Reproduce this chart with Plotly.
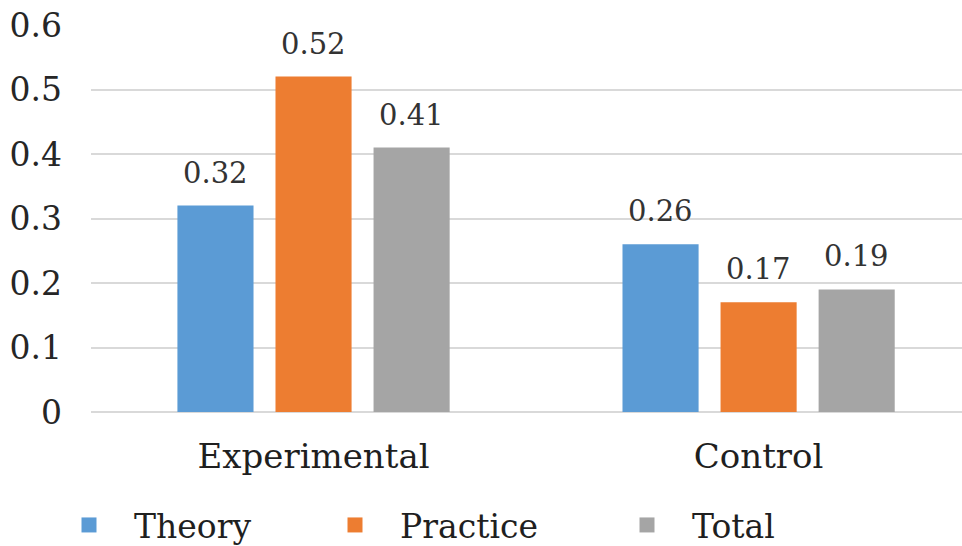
import plotly.graph_objects as go

# Mean scores by group
groups = ["Experimental", "Control"]
series_names = ["Theory", "Practice", "Total"]
theory = [0.32, 0.26]
practice = [0.52, 0.17]
total = [0.41, 0.19]
y_ticks = [0, 0.1, 0.2, 0.3, 0.4, 0.5, 0.6]

colors = ["#5B9BD5", "#ED7D31", "#A5A5A5"]
values = [theory, practice, total]

W, H = 962, 546
ML, MR, MT, MB = 91, 0, 25, 134
X_RANGE = [-0.5, 1.457]
BARGAP = 0.339
BARGROUPGAP = 0.224
FONT = "DejaVu Serif"

fig = go.Figure()

for name, vals, col in zip(series_names, values, colors):
    fig.add_trace(go.Bar(
        x=groups, y=vals, name=name, marker_color=col,
        marker_line_width=0, showlegend=False,
    ))

# Value labels above each bar, offset to the bar's slot within its group
px_per_unit = (W - ML - MR) / (X_RANGE[1] - X_RANGE[0])
slot_px = px_per_unit * (1 - BARGAP) / len(series_names)
for i, vals in enumerate(values):
    for g, v in zip(groups, vals):
        fig.add_annotation(
            x=g, y=v, text=f"{v:.2f}", showarrow=False,
            xanchor="center", yanchor="bottom",
            xshift=(i - 1) * slot_px, yshift=14,
            font=dict(family=FONT, size=29, color="#333333"),
        )

# Legend entries, one legend per series so each can be placed on its own
legend_x = [44, 310, 602]
for k, (name, col) in enumerate(zip(series_names, colors)):
    lg = "legend" if k == 0 else f"legend{k + 1}"
    fig.add_trace(go.Scatter(
        x=[None], y=[None], mode="markers", name=name,
        marker=dict(symbol="square", size=15, color=col),
        legend=lg, showlegend=True,
    ))
    fig.update_layout({lg: dict(
        x=legend_x[k] / W, xref="container", xanchor="left",
        y=1 - 525 / H, yref="container", yanchor="middle",
        orientation="h", itemwidth=80,
        font=dict(family=FONT, size=33, color="#1f1f1f"),
        bgcolor="rgba(0,0,0,0)", borderwidth=0,
    )})

fig.update_layout(
    width=W, height=H,
    margin=dict(l=ML, r=MR, t=MT, b=MB, pad=0),
    plot_bgcolor="white", paper_bgcolor="white",
    barmode="group", bargap=BARGAP, bargroupgap=BARGROUPGAP,
    font=dict(family=FONT, color="#333333"),
    xaxis=dict(
        range=X_RANGE, showgrid=False, showline=False, zeroline=False,
        ticks="", tickfont=dict(family=FONT, size=34, color="#1f1f1f"),
        ticklabelstandoff=21,
    ),
    yaxis=dict(
        range=[0, 0.6], tickvals=y_ticks,
        ticktext=[f"{t:g}" for t in y_ticks],
        showgrid=True, gridcolor="#D9D9D9", gridwidth=2,
        zeroline=True, zerolinecolor="#D9D9D9", zerolinewidth=2,
        showline=False, ticks="",
        tickfont=dict(family=FONT, size=33, color="#262626"),
        ticklabelstandoff=28,
    ),
)

fig.write_html("out.html")
